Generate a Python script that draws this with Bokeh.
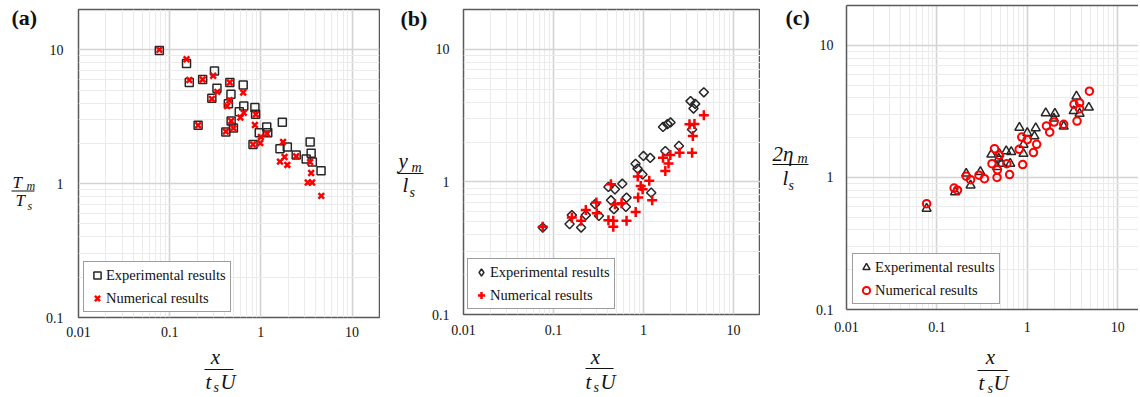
import math
from bokeh.plotting import figure
from bokeh.layouts import row, column
from bokeh.models import (Range1d, FixedTicker, CustomJSTickFormatter, Label,
                          Legend, LegendItem, LogAxis)
from bokeh.embed import file_html
from bokeh.resources import INLINE

# ---------------- data ----------------
X_TICKS = [0.01, 0.1, 1, 10]
X_TICK_LABELS = ["0.01", "0.1", "1", "10"]
Y_TICKS = [0.1, 1, 10]
Y_TICK_LABELS = ["0.1", "1", "10"]
LEGEND_LABELS = ["Experimental results", "Numerical results"]
PANEL_TAGS = ["(a)", "(b)", "(c)"]

# (a) T_m / T_s
A_EXP_X = [0.077, 0.153, 0.164, 0.23, 0.31, 0.33, 0.29, 0.457, 0.47, 0.44, 0.64, 0.58, 0.65,
           0.86, 0.875, 0.205, 0.413, 0.50, 0.472, 0.82, 1.16, 1.19, 0.96, 1.72, 1.62, 1.95,
           2.44, 3.47, 3.56, 3.14, 3.67, 4.57]
A_EXP_Y = [9.9, 7.9, 5.7, 6.0, 6.95, 5.15, 4.35, 5.7, 4.65, 3.95, 5.45, 3.45, 3.8,
           3.7, 3.3, 2.73, 2.43, 2.6, 2.94, 1.96, 2.65, 2.4, 2.4, 2.88, 1.82, 1.88,
           1.64, 2.05, 1.69, 1.53, 1.45, 1.25]
A_NUM_X = [0.077, 0.153, 0.164, 0.23, 0.30, 0.333, 0.29, 0.457, 0.452, 0.427, 0.64, 0.595,
           0.65, 0.88, 0.86, 0.205, 0.413, 0.50, 0.472, 0.82, 0.985, 1.0, 1.17, 1.75, 1.62,
           1.82, 1.95, 2.44, 3.47, 3.56, 3.27, 3.65, 4.6]
A_NUM_Y = [10.0, 8.5, 5.95, 6.0, 6.4, 4.85, 4.3, 5.7, 4.2, 3.8, 4.8, 3.12,
           3.38, 3.3, 2.74, 2.73, 2.45, 2.6, 2.94, 1.96, 2.01, 2.23, 2.36, 2.05, 1.46,
           1.58, 1.38, 1.6, 1.45, 1.2, 1.02, 1.02, 0.81]

# (b) y_m / l_s
B_EXP_X = [4.69, 3.34, 3.76, 3.6, 3.47, 1.65, 2.0, 1.85, 1.75, 2.48, 1.0, 1.19, 0.817, 0.86,
           0.976, 0.582, 0.408, 0.482, 0.649, 1.22, 0.436, 0.47, 0.638, 0.29, 0.32, 0.229,
           0.16, 0.151, 0.203, 0.076]
B_EXP_Y = [4.75, 4.07, 3.88, 3.58, 2.49, 2.6, 2.81, 2.73, 1.71, 1.87, 1.57, 1.52, 1.37, 1.26,
           1.14, 0.97, 0.917, 0.88, 0.762, 0.83, 0.728, 0.624, 0.649, 0.68, 0.555, 0.562,
           0.562, 0.481, 0.453, 0.453]
B_NUM_X = [4.69, 3.25, 3.69, 3.54, 3.47, 2.52, 1.99, 1.65, 1.9, 1.75, 0.865, 1.16, 0.933,
           0.98, 0.435, 0.873, 1.25, 0.30, 0.82, 0.649, 0.571, 0.482, 0.462, 0.462, 0.408,
           0.303, 0.229, 0.203, 0.16, 0.076]
B_NUM_Y = [3.19, 2.72, 2.74, 2.22, 1.66, 1.66, 1.6, 1.52, 1.38, 1.21, 1.1, 1.02, 0.933,
           0.88, 0.962, 0.762, 0.728, 0.70, 0.594, 0.509, 0.691, 0.68, 0.509, 0.459, 0.515,
           0.581, 0.615, 0.509, 0.54, 0.459]

# (c) 2 eta_m / l_s
C_EXP_X = [3.5, 4.8, 3.26, 3.79, 1.6, 2.02, 1.97, 2.53, 0.818, 1.24, 1.0, 1.2, 0.908, 0.908,
           0.40, 0.491, 0.585, 0.664, 0.517, 0.648, 0.463, 0.303, 0.211, 0.236, 0.159, 0.077,
           0.483]
C_EXP_Y = [4.11, 3.38, 3.18, 3.04, 3.07, 3.04, 2.79, 2.43, 2.38, 2.36, 2.17, 2.05, 1.77, 1.51,
           1.49, 1.51, 1.58, 1.56, 1.27, 1.27, 1.2, 1.1, 1.07, 0.87, 0.774, 0.58,
           1.39]
C_NUM_X = [4.87, 3.29, 3.79, 3.79, 3.55, 1.63, 1.77, 1.98, 2.53, 0.869, 1.0, 1.27, 1.17,
           0.814, 0.434, 0.491, 0.407, 0.594, 0.89, 0.467, 0.638, 0.463, 0.211, 0.292, 0.336,
           0.236, 0.155, 0.169, 0.077]
C_NUM_Y = [4.49, 3.57, 3.66, 3.31, 2.67, 2.45, 2.2, 2.62, 2.52, 2.02, 1.93, 1.78, 1.54,
           1.63, 1.65, 1.47, 1.27, 1.27, 1.25, 1.14, 1.05, 1.0, 1.02, 1.04, 0.977,
           0.96, 0.83, 0.8, 0.632]

# ---------------- style ----------------
SERIF = "Liberation Serif"
RED = "#ff0000"
DARK = "#262626"
FRAME = "#5a5a5a"
INK = "#111111"
PAGE_H = 396
BASE_SHIFT = 0.24     # Label "alphabetic" anchor sits this many em above the drawn baseline

FMT_CODE = """
for (let i = 0; i < tvals.length; i++) {
  if (Math.abs(Math.log10(tvals[i]) - Math.log10(tick)) < 1e-6) { return tlabels[i]; }
}
return "";
"""


def minor_list(lo, hi):
    out = []
    d = 10 ** math.floor(math.log10(lo))
    while d < hi:
        for k in range(2, 10):
            v = k * d
            if lo < v < hi:
                out.append(v)
        d *= 10
    return out


def text_fig(left, top, w, h):
    """Blank canvas whose coordinates are page pixels (y downwards), for titles."""
    f = figure(width=w, height=h, x_range=Range1d(left, left + w),
               y_range=Range1d(top + h, top), output_backend="svg",
               toolbar_location=None, x_axis_location=None, y_axis_location=None,
               min_border=0)
    f.frame_align = False
    f.grid.visible = False
    f.outline_line_color = None
    f.background_fill_color = "white"
    f.border_fill_color = "white"
    return f


def put(f, px, py, txt, size, style="italic", align="left"):
    f.add_layout(Label(x=px, y=py - BASE_SHIFT * size, text=txt, text_font=SERIF,
                       text_font_size=f"{size}px", text_font_style=style, text_align=align,
                       text_baseline="alphabetic", text_color=INK))


def fbar(f, px0, px1, py):
    f.segment(x0=[px0], y0=[py], x1=[px1], y1=[py], line_color=INK, line_width=1.2)


def main_fig(left, width, height, frame_left, frame_right, frame_top, frame_bottom, xr, yr,
             xstand, ystand, outline=True):
    p = figure(width=width, height=height, x_axis_type="log", y_axis_type="log",
               x_range=Range1d(*xr), y_range=Range1d(*yr),
               output_backend="svg", toolbar_location=None,
               min_border_left=frame_left - left,
               min_border_right=left + width - frame_right,
               min_border_top=frame_top,
               min_border_bottom=height - frame_bottom)
    p.frame_align = False
    p.background_fill_color = "white"
    p.border_fill_color = "white"
    xt = FixedTicker(ticks=X_TICKS, minor_ticks=minor_list(*xr))
    yt = FixedTicker(ticks=Y_TICKS, minor_ticks=minor_list(*yr))
    p.xaxis.ticker = xt
    p.yaxis.ticker = yt
    p.xgrid.ticker = xt
    p.ygrid.ticker = yt
    p.xaxis.formatter = CustomJSTickFormatter(args=dict(tvals=X_TICKS, tlabels=X_TICK_LABELS),
                                              code=FMT_CODE)
    p.yaxis.formatter = CustomJSTickFormatter(args=dict(tvals=Y_TICKS, tlabels=Y_TICK_LABELS),
                                              code=FMT_CODE)
    for g in (p.xgrid, p.ygrid):
        g.grid_line_color = "#d3d3d3"
        g.grid_line_width = 1.6
        g.minor_grid_line_color = "#ebebeb"
        g.minor_grid_line_width = 1
    for ax in p.axis:
        ax.major_tick_line_color = None
        ax.minor_tick_line_color = None
        ax.major_tick_out = 0
        ax.major_tick_in = 0
        ax.minor_tick_out = 0
        ax.minor_tick_in = 0
        ax.major_label_text_font = SERIF
        ax.major_label_text_font_size = "14px"
        ax.major_label_text_color = INK
    p.xaxis.major_label_standoff = xstand
    p.yaxis.major_label_standoff = ystand
    if outline:
        p.outline_line_color = FRAME
        p.outline_line_width = 1.5
        p.axis.axis_line_color = None
    else:
        p.outline_line_color = None
        p.axis.axis_line_color = FRAME
        p.axis.axis_line_width = 1.5
        top = LogAxis(ticker=FixedTicker(ticks=[]), axis_line_color=FRAME,
                      axis_line_width=1.5, major_tick_out=0, major_tick_in=0,
                      minor_tick_out=0, minor_tick_in=0, major_label_standoff=0,
                      major_tick_line_color=None, minor_tick_line_color=None)
        p.add_layout(top, "above")
    return p


def add_legend(p, rends, loc):
    items = [LegendItem(label=LEGEND_LABELS[i], renderers=[r]) for i, r in enumerate(rends)]
    lg = Legend(items=items, location=loc, border_line_color="#3c3c3c",
                border_line_width=1.5, background_fill_color="white",
                background_fill_alpha=1.0, padding=4, spacing=5, margin=0,
                glyph_width=18, glyph_height=18, label_height=18, label_standoff=-2,
                label_text_font=SERIF, label_text_font_size="14.5px",
                label_text_color=INK, inactive_fill_alpha=0.0)
    p.add_layout(lg)


def xtitle(f, cx, bar0, bar1, bar_y, tleft, sleft, uleft, base=387):
    put(f, cx, 362, "x", 21, align="center")
    fbar(f, bar0, bar1, bar_y)
    put(f, tleft, base, "t", 21)
    put(f, sleft, base + 3, "s", 14)
    put(f, uleft, base, "U", 21)


# ---------------- panel (a) ----------------
HA = 343
La = text_fig(0, 0, 42, PAGE_H)
Ma = main_fig(42, 338, HA, 76, 379, 9, 317, (0.01, 20), (0.1, 20), xstand=9, ystand=15)
Ba = text_fig(42, HA, 338, PAGE_H - HA)
ra1 = Ma.scatter(A_EXP_X, A_EXP_Y, marker="square", size=8, fill_color=None,
                 line_color=DARK, line_width=1.5)
ra2 = Ma.scatter(A_NUM_X, A_NUM_Y, marker="x", size=8, line_color=RED, line_width=2.5)
add_legend(Ma, [ra1, ra2], (5, 5))
put(La, 11, 22, PANEL_TAGS[0], 22, style="bold")
put(La, 12, 186.5, "T", 17)
put(La, 26, 188, "m", 12)
fbar(La, 11, 34, 190.5)
put(La, 15, 204, "T", 17)
put(La, 27, 208, "s", 12)
xtitle(Ba, 215, 204, 233, 369, 205, 213, 220)

# ---------------- panel (b) ----------------
HB = 342
Lb = text_fig(380, 0, 48, PAGE_H)
Mb = main_fig(428, 332, HB, 461, 760, 9, 314, (0.01, 20), (0.1, 20), xstand=10, ystand=14)
Bb = text_fig(428, HB, 332, PAGE_H - HB)
rb1 = Mb.scatter(B_EXP_X, B_EXP_Y, marker="square", angle=math.pi / 4, size=6.5,
                 fill_color=None, line_color=DARK, line_width=1.5)
rb2 = Mb.scatter(B_NUM_X, B_NUM_Y, marker="cross", size=10, line_color=RED, line_width=2.5)
# legend proxy (hidden in the plot): diamond symbol for the legend entry
rb_leg = Mb.scatter(B_EXP_X[:1], B_EXP_Y[:1], marker="diamond", size=9, fill_color=None,
                    line_color=DARK, line_width=1.5, visible=False)
add_legend(Mb, [rb_leg, rb2], (4, 5))
put(Lb, 400, 23, PANEL_TAGS[1], 22, style="bold")
put(Lb, 398, 166, "y", 21)
put(Lb, 411, 170.5, "m", 14)
fbar(Lb, 397, 423, 173)
put(Lb, 402, 190, "l", 21)
put(Lb, 409, 195, "s", 14)
xtitle(Bb, 595, 585, 613, 368, 585, 593, 600)

# ---------------- panel (c) ----------------
HC = 340
Lc = text_fig(760, 0, 52, PAGE_H)
Mc = main_fig(812, 326, HC, 843, 1138, 5, 309, (0.01, 17.0), (0.1, 20), xstand=12, ystand=13,
              outline=False)
Bc = text_fig(812, HC, 326, PAGE_H - HC)
rc1 = Mc.scatter(C_EXP_X, C_EXP_Y, marker="triangle", size=9, fill_color=None,
                 line_color=DARK, line_width=1.5)
rc2 = Mc.scatter(C_NUM_X, C_NUM_Y, marker="circle", size=7.5, fill_color=None,
                 line_color=RED, line_width=2)
add_legend(Mc, [rc1, rc2], (6, 5))
put(Lc, 785, 22, PANEL_TAGS[2], 22, style="bold")
put(Lc, 772, 159, "2\u03b7", 21)
put(Lc, 797, 161.5, "m", 14)
fbar(Lc, 772, 808, 164)
put(Lc, 782, 183, "l", 21)
put(Lc, 788, 188, "s", 14)
xtitle(Bc, 990, 977, 1007, 370, 978, 987, 993, base=388)

layout = row(La, column(Ma, Ba, spacing=0), Lb, column(Mb, Bb, spacing=0),
             Lc, column(Mc, Bc, spacing=0), spacing=0)
open("out.html", "w").write(file_html(layout, INLINE))
